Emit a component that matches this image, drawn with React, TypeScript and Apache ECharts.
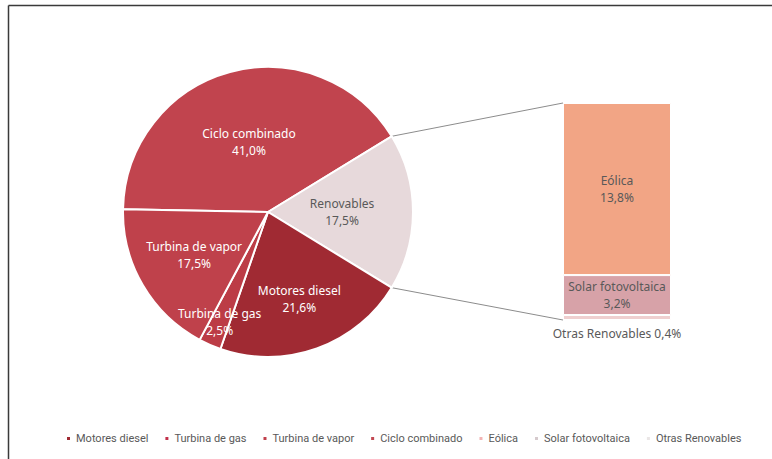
import React, { useEffect, useRef } from "react";
import * as echarts from "echarts";

const pieCategories = ["Ciclo combinado", "Renovables", "Motores diesel", "Turbina de gas", "Turbina de vapor"];
const pieValues = [41.0, 17.5, 21.6, 2.5, 17.5];
const renovCategories = ["Otras Renovables", "Solar fotovoltaica", "Eólica"];
const renovValues = [0.4, 3.2, 13.8];
const legendOrder = ["Motores diesel", "Turbina de gas", "Turbina de vapor", "Ciclo combinado", "Eólica", "Solar fotovoltaica", "Otras Renovables"];

const pieColors: Record<string, string> = {
  "Ciclo combinado": "#C1444E",
  "Renovables": "#E7D9DB",
  "Motores diesel": "#A02A33",
  "Turbina de gas": "#BC3C46",
  "Turbina de vapor": "#BF414B",
};
const barColors: Record<string, string> = {
  "Eólica": "#F2A585",
  "Solar fotovoltaica": "#D7A2A8",
  "Otras Renovables": "#EFCFCF",
};
const legendColors: Record<string, string> = {
  "Motores diesel": "#A02A33",
  "Turbina de gas": "#C2304A",
  "Turbina de vapor": "#C0404C",
  "Ciclo combinado": "#C24852",
  "Eólica": "#F2B4B4",
  "Solar fotovoltaica": "#D6CACD",
  "Otras Renovables": "#EAE6E6",
};
const labelRadiusFrac: Record<string, number> = {
  "Ciclo combinado": 0.48,
  "Renovables": 0.49,
  "Motores diesel": 0.62,
  "Turbina de gas": 0.81,
  "Turbina de vapor": 0.57,
};

const fmt = (v: number) => v.toFixed(1).replace(".", ",") + "%";

export default function App() {
  const ref = useRef<HTMLDivElement>(null);
  useEffect(() => {
    if (!ref.current) return;
    const chart = echarts.init(ref.current, null, { renderer: "svg" });
    const font = "'Noto Sans', sans-serif";
    const cx = 268, cy = 212, R = 145;
    const total = pieValues.reduce((a, b) => a + b, 0);
    const angles = pieValues.map((v) => (v / total) * 360);
    const renovIdx = pieCategories.indexOf("Renovables");
    let before = 0;
    for (let i = 0; i < renovIdx; i++) before += angles[i];
    const half = angles[renovIdx] / 2;
    const startAngle = half + before;
    const mids: number[] = [];
    let acc = startAngle;
    angles.forEach((a) => {
      mids.push(acc - a / 2);
      acc -= a;
    });

    const gridLeft = 563, gridTop = 103, gridW = 108, gridH = 217;
    const rad = (d: number) => (d * Math.PI) / 180;
    const upper = [cx + R * Math.cos(rad(half)), cy - R * Math.sin(rad(half))];
    const lower = [cx + R * Math.cos(rad(-half)), cy - R * Math.sin(rad(-half))];
    const renovTotal = renovValues.reduce((a, b) => a + b, 0);

    const barSeries = renovCategories.map((name, i) => {
      const isOtras = name === "Otras Renovables";
      return {
        type: "bar",
        name,
        stack: "r",
        barWidth: "100%",
        data: [renovValues[i]],
        itemStyle: { color: barColors[name], borderColor: "#fff", borderWidth: 1 },
        label: {
          show: true,
          position: isOtras ? "bottom" : "inside",
          distance: 5,
          formatter: isOtras ? `${name} ${fmt(renovValues[i])}` : `${name}\n${fmt(renovValues[i])}`,
          color: "#595959",
          fontFamily: font,
          fontSize: 12,
          lineHeight: 17,
        },
      };
    });

    chart.setOption({
      animation: false,
      backgroundColor: "#ffffff",
      legend: {
        data: legendOrder.map((n) => ({ name: n, itemStyle: { color: legendColors[n] } })),
        left: 60,
        top: 428,
        width: 710,
        icon: "rect",
        itemWidth: 5,
        itemHeight: 5,
        itemGap: 15,
        textStyle: { color: "#595959", fontFamily: "Roboto, sans-serif", fontSize: 11 },
        selectedMode: false,
      },
      grid: { left: gridLeft, top: gridTop, width: gridW, height: gridH },
      xAxis: { type: "category", data: [""], show: false },
      yAxis: { type: "value", min: 0, max: renovTotal, show: false },
      series: [
        {
          type: "pie",
          center: [cx, cy],
          radius: R,
          startAngle,
          clockwise: true,
          data: pieCategories.map((n, i) => ({
            name: n,
            value: pieValues[i],
            itemStyle: { color: pieColors[n] },
            label: { color: n === "Renovables" ? "#595959" : "#ffffff" },
          })),
          itemStyle: { borderColor: "#ffffff", borderWidth: 2 },
          label: {
            show: true,
            position: "inside",
            formatter: (p: any) => `${p.name}\n${fmt(p.value)}`,
            fontFamily: font,
            fontSize: 12,
            lineHeight: 17,
          },
          labelLine: { show: false },
          labelLayout: (p: any) => {
            const i = p.dataIndex;
            const m = rad(mids[i]);
            const f = labelRadiusFrac[pieCategories[i]] - 0.5;
            return { dx: Math.cos(m) * R * f, dy: -Math.sin(m) * R * f };
          },
        },
        ...barSeries,
      ],
      graphic: [
        { type: "line", shape: { x1: 8.5, y1: 5.5, x2: 772, y2: 5.5 }, style: { stroke: "#3a3a3a", lineWidth: 1.5 } },
        { type: "line", shape: { x1: 8.5, y1: 5.5, x2: 8.5, y2: 459 }, style: { stroke: "#3a3a3a", lineWidth: 1.5 } },
        { type: "line", shape: { x1: upper[0], y1: upper[1], x2: gridLeft, y2: gridTop }, style: { stroke: "#8c8c8c", lineWidth: 1 } },
        { type: "line", shape: { x1: lower[0], y1: lower[1], x2: gridLeft, y2: gridTop + gridH }, style: { stroke: "#8c8c8c", lineWidth: 1 } },
      ],
    });
    return () => chart.dispose();
  }, []);
  return <div ref={ref} style={{ position: "absolute", left: 0, top: 0, width: 772, height: 459 }} />;
}
